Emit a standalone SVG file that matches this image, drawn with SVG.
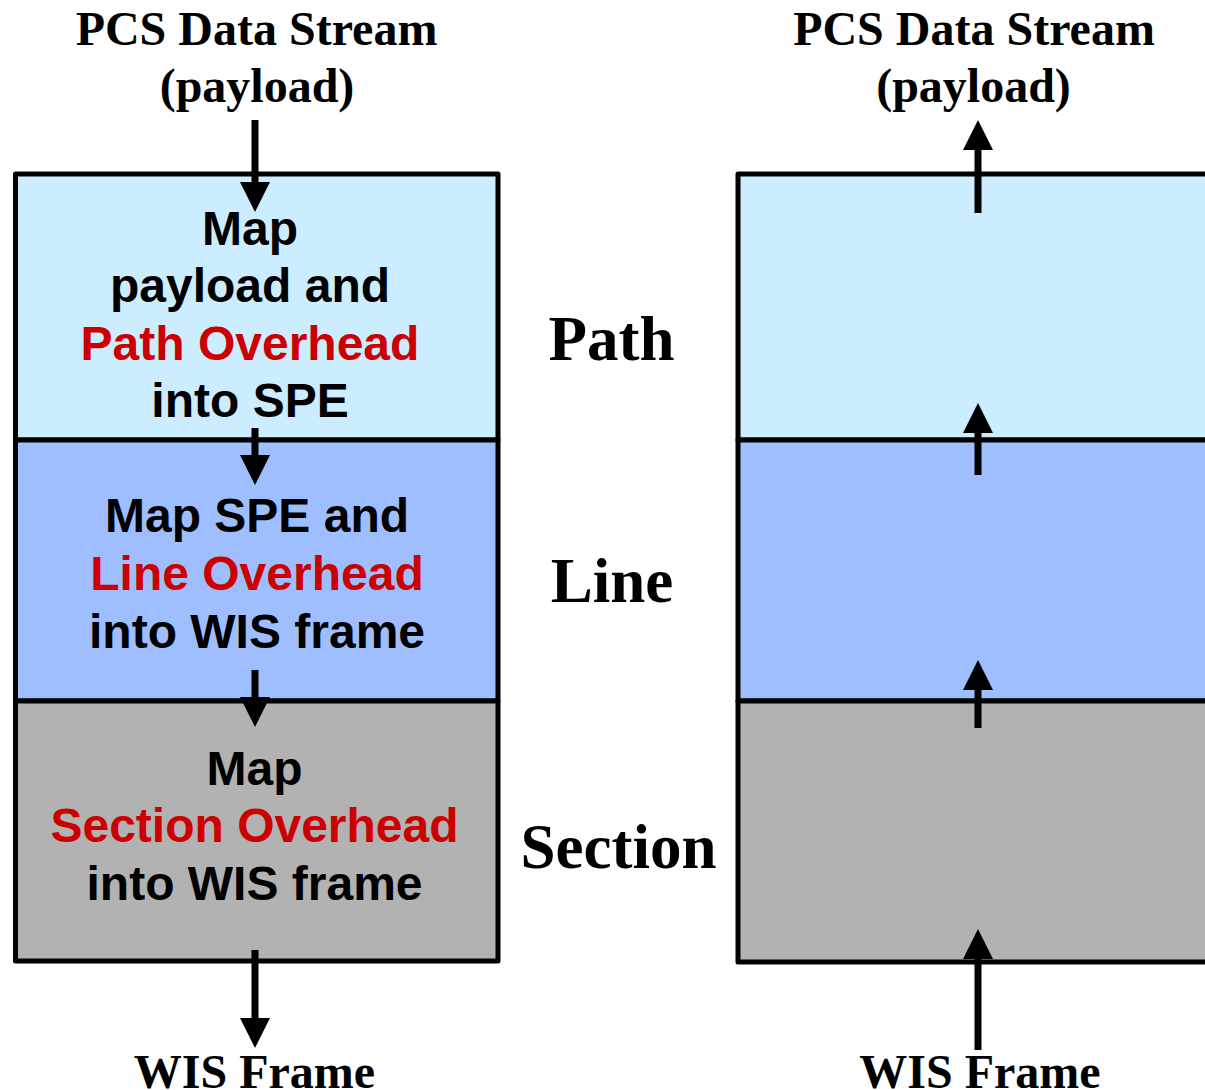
<svg xmlns="http://www.w3.org/2000/svg" width="1205" height="1090" viewBox="0 0 1205 1090">
<style>
.box{stroke:#000;stroke-width:5;stroke-linejoin:round}
.p{fill:#CCECFF}.l{fill:#9EBEFF}.s{fill:#B2B2B2}
.t{font-family:"Liberation Sans",Arial,sans-serif;font-weight:bold;font-size:48px;text-anchor:middle;fill:#000}
.r{fill:#CC0000}
.ti{font-family:"Liberation Serif","Times New Roman",serif;font-weight:bold;font-size:48px;text-anchor:middle;fill:#000}
.big{font-family:"Liberation Serif","Times New Roman",serif;font-weight:bold;font-size:63px;text-anchor:middle;fill:#000}
.c{stroke:#000;stroke-width:7;fill:none}
</style>
<defs>
<marker id="ah" markerUnits="userSpaceOnUse" markerWidth="30" markerHeight="30" refX="0" refY="15" orient="auto" viewBox="0 0 30 30">
<path d="M0,0 L30,15 L0,30 Z" fill="#000"/>
</marker>
</defs>
<g id="left-path"><rect class="box p" x="15.5" y="174" width="482.5" height="266"/></g>
<g id="left-line"><rect class="box l" x="15.5" y="440" width="482.5" height="261"/></g>
<g id="left-section"><rect class="box s" x="15.5" y="701" width="482.5" height="260"/></g>
<g id="right-path"><rect class="box p" x="738" y="174" width="480" height="266"/></g>
<g id="right-line"><rect class="box l" x="738" y="440" width="480" height="261"/></g>
<g id="right-section"><rect class="box s" x="738" y="701" width="480" height="261"/></g>
<g id="connectors">
<line class="c" x1="255" y1="120" x2="255" y2="182" marker-end="url(#ah)"/>
<line class="c" x1="255" y1="428" x2="255" y2="455" marker-end="url(#ah)"/>
<line class="c" x1="255" y1="670" x2="255" y2="697" marker-end="url(#ah)"/>
<line class="c" x1="255" y1="950" x2="255" y2="1018" marker-end="url(#ah)"/>
<line class="c" x1="978" y1="1050" x2="978" y2="959" marker-end="url(#ah)"/>
<line class="c" x1="978" y1="728" x2="978" y2="690" marker-end="url(#ah)"/>
<line class="c" x1="978" y1="475" x2="978" y2="433" marker-end="url(#ah)"/>
<line class="c" x1="978" y1="213" x2="978" y2="150" marker-end="url(#ah)"/>
</g>
<g id="labels">
<text class="ti" x="256.5" y="45">PCS Data Stream</text>
<text class="ti" x="257" y="102">(payload)</text>
<text class="ti" x="974" y="45">PCS Data Stream</text>
<text class="ti" x="973.5" y="102">(payload)</text>
<text class="ti" x="254.5" y="1088">WIS Frame</text>
<text class="ti" x="980" y="1088">WIS Frame</text>
<text class="big" x="611.5" y="360">Path</text>
<text class="big" x="612" y="602">Line</text>
<text class="big" x="618.5" y="868">Section</text>
</g>
<g id="left-path-text">
<text class="t" x="250" y="245">Map</text>
<text class="t" x="250" y="302">payload and</text>
<text class="t r" x="250" y="360">Path Overhead</text>
<text class="t" x="250" y="417">into SPE</text>
</g>
<g id="left-line-text">
<text class="t" x="257" y="532">Map SPE and</text>
<text class="t r" x="257" y="590">Line Overhead</text>
<text class="t" x="257" y="648">into WIS frame</text>
</g>
<g id="left-section-text">
<text class="t" x="254.5" y="785">Map</text>
<text class="t r" x="254.5" y="842">Section Overhead</text>
<text class="t" x="254.5" y="900">into WIS frame</text>
</g>
</svg>
